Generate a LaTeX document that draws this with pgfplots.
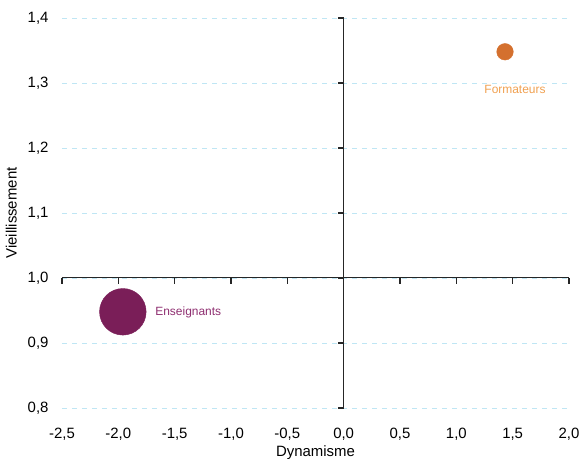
\documentclass[border=0pt]{standalone}
\usepackage{fontspec}
\setmainfont{Liberation Sans}
\usepackage{pgfplots}
\pgfplotsset{compat=1.18}
\definecolor{gridc}{HTML}{BFE6F4}
\definecolor{ensc}{HTML}{7A1E58}
\definecolor{ensl}{HTML}{8E2E70}
\definecolor{forc}{HTML}{D4702E}
\definecolor{forl}{HTML}{F0A050}
\begin{document}
\begin{tikzpicture}
\begin{axis}[name=ax,
  scale only axis, width=507bp, height=390bp,
  xmin=-2.5, xmax=2, ymin=0.8, ymax=1.4,
  xtick={-2.5,-2,-1.5,-1,-0.5,0,0.5,1,1.5,2},
  ytick={0.8,0.9,1.0,1.1,1.2,1.3,1.4},
  clip=false,
  axis line style={draw=none},
  major tick length=0pt,
  ymajorgrids, grid style={gridc, dash pattern=on 5bp off 5bp, line width=0.9bp},
  /pgf/number format/.cd, use comma, fixed, fixed zerofill, precision=1, assume math mode=true,
  /pgfplots/.cd,
  ticklabel style={font=\fontsize{15}{18}\selectfont, black},
  xticklabel style={yshift=-17bp},
  yticklabel style={xshift=-10bp},
  xlabel={Dynamisme}, ylabel={Vieillissement},
  label style={font=\fontsize{15}{18}\selectfont},
  xlabel style={yshift=2bp},
  ylabel style={yshift=4bp},
]
\draw[black!85, line width=1bp] (axis cs:-2.5,1) -- (axis cs:2,1);
\draw[black!85, line width=1bp] (axis cs:0,0.8) -- (axis cs:0,1.4);
\pgfplotsinvokeforeach{-2.5,-2,-1.5,-1,-0.5,0,0.5,1,1.5,2}{
  \draw[black!85, line width=1.2bp] (axis cs:#1,1) -- ([yshift=-6bp]axis cs:#1,1);
}
\pgfplotsinvokeforeach{0.8,0.9,1.0,1.1,1.2,1.3,1.4}{
  \draw[black!85, line width=1.2bp] (axis cs:0,#1) -- ([xshift=-6bp]axis cs:0,#1);
}
\addplot[only marks, mark=*, mark size=23.3bp, color=ensc,
  nodes near coords={Enseignants}, every node near coord/.append style={font=\fontsize{12}{14}\selectfont, color=ensl, anchor=west, xshift=29bp, yshift=-1bp}]
  coordinates {(-1.96,0.948)};
\addplot[only marks, mark=*, mark size=8.3bp, color=forc,
  nodes near coords={Formateurs}, every node near coord/.append style={font=\fontsize{12}{14}\selectfont, color=forl, anchor=center, xshift=10bp, yshift=-38bp}]
  coordinates {(1.432,1.348)};
\end{axis}
\pgfresetboundingbox
\path[use as bounding box] ([shift={(-62bp,-51bp)}]ax.south west) rectangle ([shift={(15bp,18bp)}]ax.north east);
\end{tikzpicture}
\end{document}
